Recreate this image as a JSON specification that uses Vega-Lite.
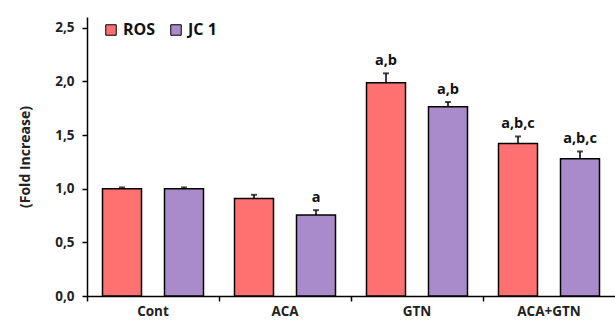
{
  "$schema": "https://vega.github.io/schema/vega-lite/v6.json",
  "autosize": "none",
  "padding": {"left": 87, "top": 17, "right": 0, "bottom": 28},
  "width": 528,
  "height": 279,
  "background": "white",
  "config": {
    "view": {"stroke": null},
    "font": "Open Sans"
  },
  "data": {
    "values": [
      {"Group": "Cont", "Series": "ROS", "Value": 1.0, "Err": 0.012, "Label": ""},
      {"Group": "Cont", "Series": "JC 1", "Value": 1.0, "Err": 0.012, "Label": ""},
      {"Group": "ACA", "Series": "ROS", "Value": 0.908, "Err": 0.035, "Label": ""},
      {"Group": "ACA", "Series": "JC 1", "Value": 0.755, "Err": 0.045, "Label": "a"},
      {"Group": "GTN", "Series": "ROS", "Value": 1.987, "Err": 0.088, "Label": "a,b"},
      {"Group": "GTN", "Series": "JC 1", "Value": 1.763, "Err": 0.045, "Label": "a,b"},
      {"Group": "ACA+GTN", "Series": "ROS", "Value": 1.422, "Err": 0.065, "Label": "a,b,c"},
      {"Group": "ACA+GTN", "Series": "JC 1", "Value": 1.279, "Err": 0.068, "Label": "a,b,c"}
    ]
  },
  "transform": [{"calculate": "datum.Value + datum.Err", "as": "Top"}],
  "encoding": {
    "x": {
      "field": "Group", "type": "nominal",
      "sort": ["Cont", "ACA", "GTN", "ACA+GTN"],
      "scale": {"paddingInner": 0, "paddingOuter": 0},
      "axis": {
        "title": null, "labelAngle": 0, "bandPosition": 0,
        "domainColor": "black", "domainWidth": 1.5,
        "tickColor": "black", "tickWidth": 1.5, "tickSize": 5,
        "labelFontWeight": "bold", "labelFontSize": 13.5, "labelColor": "#222",
        "labelPadding": 3, "labelFont": "Open Sans", "labelBound": false
      }
    },
    "xOffset": {
      "field": "Series", "type": "nominal", "sort": ["ROS", "JC 1"],
      "scale": {"paddingInner": 0.371, "paddingOuter": 0.25}
    }
  },
  "layer": [
    {
      "mark": {"type": "bar", "stroke": "black", "strokeWidth": 1.5},
      "encoding": {
        "y": {
          "field": "Value", "type": "quantitative",
          "scale": {"domain": [0, 2.5]},
          "axis": {
            "title": "(Fold Increase)", "titleFontWeight": "bold", "titleFontSize": 14,
            "titleColor": "#222", "titlePadding": 22, "titleFont": "Open Sans",
            "values": [0, 0.5, 1, 1.5, 2, 2.5],
            "format": ".1f", "labelExpr": "replace(datum.label, '.', ',')",
            "grid": false, "domainColor": "black", "domainWidth": 1.5,
            "tickColor": "black", "tickWidth": 1.5, "tickSize": 5,
            "labelFontWeight": "bold", "labelFontSize": 13.5, "labelColor": "#222",
            "labelPadding": 8, "labelFont": "Open Sans"
          }
        },
        "color": {
          "field": "Series", "type": "nominal",
          "scale": {"domain": ["ROS", "JC 1"], "range": ["#FF7070", "#A98BCB"]},
          "legend": {
            "title": null, "orient": "none", "legendX": 16, "legendY": 5,
            "direction": "horizontal", "symbolType": "square", "symbolSize": 110,
            "symbolStrokeColor": "black", "symbolStrokeWidth": 1,
            "symbolOpacity": 1,
            "labelFontWeight": "bold", "labelFontSize": 16, "labelColor": "#111",
            "labelFont": "Open Sans", "columnPadding": 12, "labelOffset": 4
          }
        }
      }
    },
    {
      "mark": {"type": "rule", "color": "black", "strokeWidth": 1.5},
      "encoding": {
        "y": {"field": "Value", "type": "quantitative"},
        "y2": {"field": "Top"}
      }
    },
    {
      "mark": {"type": "tick", "color": "black", "thickness": 2, "size": 6},
      "encoding": {
        "y": {"field": "Top", "type": "quantitative"}
      }
    },
    {
      "mark": {"type": "text", "baseline": "bottom", "dy": -5, "fontWeight": "bold", "fontSize": 14.5, "color": "#111", "font": "Open Sans"},
      "encoding": {
        "y": {"field": "Top", "type": "quantitative"},
        "text": {"field": "Label"}
      }
    }
  ]
}
